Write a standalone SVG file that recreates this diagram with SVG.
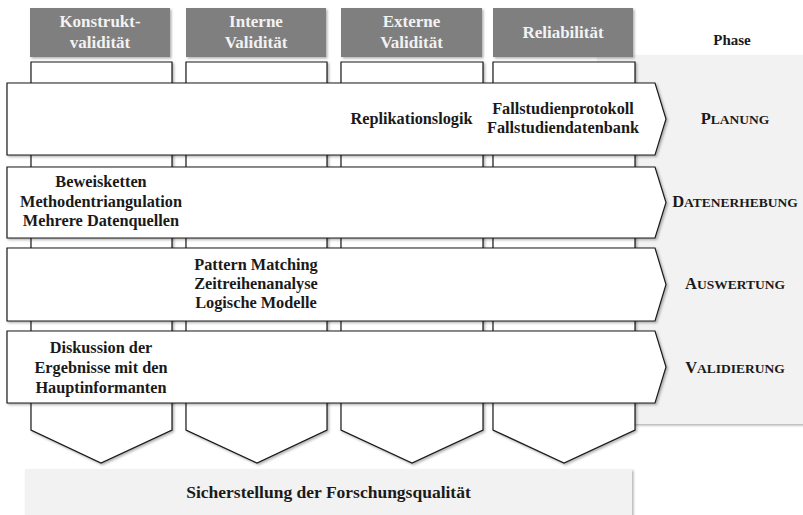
<svg xmlns="http://www.w3.org/2000/svg" width="803" height="515" viewBox="0 0 803 515">
  <defs>
    <filter id="shadow" x="-5%" y="-5%" width="115%" height="115%">
      <feDropShadow dx="1.5" dy="1.5" stdDeviation="1.2" flood-color="#000" flood-opacity="0.3"/>
    </filter>
    <style>
      text { font-family: "Liberation Serif", "Times New Roman", serif; font-weight: bold; font-size: 16.3px; fill: #1a1a1a; text-anchor: middle; }
      .head rect { fill: #7f7f7f; filter: url(#shadow); }
      .head text { fill: #f2f2f2; font-size: 17px; }
      .col { fill: #ffffff; stroke: #1a1a1a; stroke-width: 1.2; filter: url(#shadow); }
      .row { fill: #ffffff; stroke: #1a1a1a; stroke-width: 1.2; filter: url(#shadow); }
      .panel { fill: #f2f2f2; filter: url(#shadow); }
      .title { font-size: 15px; }
      .goal { font-size: 17.5px; }
      .phase { font-size: 16.5px; }
      .phase .sc { font-size: 13.5px; text-transform: uppercase; }
    </style>
  </defs>

  <rect width="803" height="515" fill="#ffffff"/>

  <!-- phase panel on the right -->
  <g id="phase-panel">
    <rect class="panel" x="597" y="55" width="210" height="369"/>
    <text class="title" x="732" y="45">Phase</text>
  </g>

  <!-- quality criteria headers -->
  <g id="head-konstrukt" class="head">
    <rect x="30" y="8" width="140" height="49"/>
    <text x="100" y="27">Konstrukt-</text>
    <text x="100" y="48">validität</text>
  </g>
  <g id="head-intern" class="head">
    <rect x="186" y="8" width="140" height="49"/>
    <text x="256" y="27">Interne</text>
    <text x="256" y="48">Validität</text>
  </g>
  <g id="head-extern" class="head">
    <rect x="341" y="8" width="141" height="49"/>
    <text x="411.5" y="27">Externe</text>
    <text x="411.5" y="48">Validität</text>
  </g>
  <g id="head-reliab" class="head">
    <rect x="493" y="8" width="140" height="49"/>
    <text x="563" y="38">Reliabilität</text>
  </g>

  <!-- vertical criterion columns ending in chevrons -->
  <g id="columns">
    <polygon id="col-konstrukt" class="col" points="31,62 172,62 172,430 101,463 31,430"/>
    <polygon id="col-intern" class="col" points="186,62 327,62 327,430 257,463 186,430"/>
    <polygon id="col-extern" class="col" points="341,62 483,62 483,430 412,463 341,430"/>
    <polygon id="col-reliab" class="col" points="493,62 635,62 635,430 564,463 493,430"/>
  </g>

  <!-- horizontal phase arrows -->
  <g id="row-planung">
    <polygon class="row" points="7,83 655,83 666,119 655,155 7,155"/>
    <text x="411.5" y="124">Replikationslogik</text>
    <text x="563" y="114">Fallstudienprotokoll</text>
    <text x="563" y="133">Fallstudiendatenbank</text>
    <text class="phase" x="735" y="124">P<tspan class="sc">lanung</tspan></text>
  </g>
  <g id="row-datenerhebung">
    <polygon class="row" points="7,167 655,167 666,202.5 655,238 7,238"/>
    <text x="101" y="187">Beweisketten</text>
    <text x="101" y="207">Methodentriangulation</text>
    <text x="101" y="226">Mehrere Datenquellen</text>
    <text class="phase" x="735" y="207">D<tspan class="sc">atenerhebung</tspan></text>
  </g>
  <g id="row-auswertung">
    <polygon class="row" points="7,248 655,248 666,284.5 655,321 7,321"/>
    <text x="256" y="270">Pattern Matching</text>
    <text x="256" y="289">Zeitreihenanalyse</text>
    <text x="256" y="308">Logische Modelle</text>
    <text class="phase" x="735" y="289">A<tspan class="sc">uswertung</tspan></text>
  </g>
  <g id="row-validierung">
    <polygon class="row" points="7,331 655,331 666,367 655,403 7,403"/>
    <text x="101" y="353">Diskussion der</text>
    <text x="101" y="373">Ergebnisse mit den</text>
    <text x="101" y="393">Hauptinformanten</text>
    <text class="phase" x="735" y="373">V<tspan class="sc">alidierung</tspan></text>
  </g>

  <!-- common goal -->
  <g id="goal">
    <rect class="panel" x="25" y="469" width="607" height="50"/>
    <text class="goal" x="328.5" y="498">Sicherstellung der Forschungsqualität</text>
  </g>
</svg>
